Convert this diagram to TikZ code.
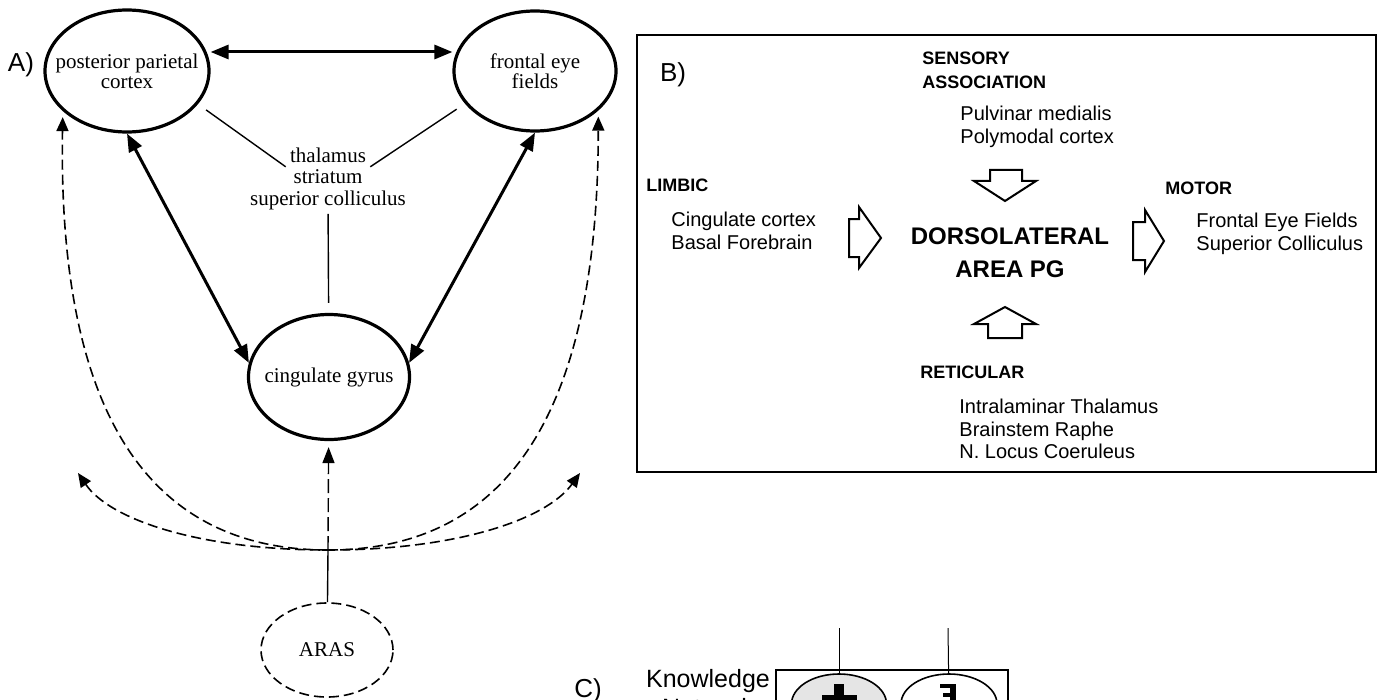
\documentclass[tikz,border=0pt]{standalone}
\usepackage{fontspec}
\setmainfont{Liberation Serif}
\setsansfont{Liberation Sans}
\usetikzlibrary{shapes.geometric,arrows.meta}

\begin{document}
\begin{tikzpicture}[x=0.5pt, y=-0.5pt,
                    area/.style={ellipse, draw, line width=1.6pt, inner sep=0pt},
                    tag/.style={align=center, inner sep=0pt, font=\fontsize{10.5}{10}\selectfont},
                    relay/.style={inner sep=2pt, font=\fontsize{10.5}{11}\selectfont},
                    bold link/.style={line width=1.5pt, {Triangle[length=9pt,width=7pt]}-{Triangle[length=9pt,width=7pt]}},
                    thin link/.style={line width=0.7pt},
                    dash link/.style={line width=0.8pt, dash pattern=on 5pt off 2.5pt},
                    dash tip/.style={-{Triangle[length=7pt,width=6pt]}},
                    panel/.style={font=\sffamily\fontsize{13}{13}\selectfont},
                    btext/.style={anchor=west, inner sep=0pt, align=left, font=\sffamily\fontsize{10}{11.25}\selectfont},
                    bhead/.style={anchor=west, inner sep=0pt, align=left, font=\sffamily\bfseries\fontsize{9}{12}\selectfont},
                    hollow/.style={draw, line width=1pt, line join=miter}
]
\useasboundingbox (0,0) rectangle (1379,700);

% A) attention network
\node[panel] (labA) at (21,65) {A)};
\node[area, minimum width=82pt, minimum height=61pt,
      label={[tag]center:{posterior parietal\\cortex}}] (ppc) at (127,71) {};
\node[area, minimum width=81pt, minimum height=60pt,
      label={[tag]center:{frontal eye\\fields}}] (fef) at (535,71) {};
\node[area, minimum width=80.5pt, minimum height=62.5pt,
      label={[tag]center:cingulate gyrus}] (cing) at (329,377) {};
\node[area, dash link, minimum width=66pt, minimum height=47pt,
      label={[tag]center:ARAS}] (aras) at (327,650) {};

\node[relay] (thal) at (328,155) {thalamus};
\node[relay] (strt) at (328,177) {striatum};
\node[relay] (supc) at (328,200) {superior colliculus};

\coordinate (hub) at (328,550);
\coordinate (tipL) at (78,473);
\coordinate (tipR) at (580,473);

\draw[bold link] ([yshift=9.5pt]ppc.east) -- ([yshift=9.5pt]fef.west);
\draw[bold link] (ppc.south) -- (cing.170);
\draw[bold link] (fef.south) -- (cing.10);

\draw[thin link, shorten <=5pt] (ppc.335) -- (thal.south west);
\draw[thin link, shorten <=5pt] (fef.205) -- (thal.south east);
\draw[thin link, shorten >=5pt] (supc) -- (cing);

\draw[dash link, dash tip, shorten >=3pt] (hub) .. controls (140,550) and (58,400) .. (ppc.212);
\draw[dash link, dash tip, shorten >=3pt] (hub) .. controls (516,550) and (598,400) .. (fef.328);
\draw[dash link, {Triangle[length=7pt,width=6pt]}-{Triangle[length=7pt,width=6pt]}] (tipL) .. controls (110,520) and (200,550) .. (hub) .. controls (456,550) and (546,520) .. (tipR);

\draw[thin link] (aras) -- (hub);
\draw[thin link, dash pattern=on 7pt off 2.5pt, -{Triangle[length=8pt,width=6pt]}, shorten >=3pt] (hub) -- (cing);

% B) area PG
\draw[line width=0.8pt] (637,35) rectangle (1376,472);
\node[panel] (labB) at (673,75) {B)};

\node[bhead] (sens) at (922,70) {SENSORY\\ASSOCIATION};
\node[btext] (sensin) at (960,127) {Pulvinar medialis\\Polymodal cortex};
\node[bhead] (limb) at (646,185) {LIMBIC};
\node[btext] (limbin) at (671,231) {Cingulate cortex\\Basal Forebrain};
\node[align=center, inner sep=0pt, font=\sffamily\bfseries\fontsize{12}{16.5}\selectfont] (pg) at (1010,253) {DORSOLATERAL\\AREA PG};
\node[bhead] (motor) at (1165,188) {MOTOR};
\node[btext] (motorout) at (1196,234) {Frontal Eye Fields\\Superior Colliculus};
\node[bhead] (retic) at (920,372) {RETICULAR};
\node[btext] (reticin) at (959,429) {Intralaminar Thalamus\\Brainstem Raphe\\N. Locus Coeruleus};

\draw[hollow] (990,170) -- (1022,170) -- (1022,181) -- (1036,181) -- (1005,201) -- (974,181) -- (990,181) -- cycle;
\draw[hollow] (1005,307) -- (1036,324) -- (1022,324) -- (1022,338) -- (988,338) -- (988,324) -- (974,324) -- cycle;
\draw[hollow] (849,219) -- (859,219) -- (859,207) -- (881,238) -- (859,268) -- (859,257) -- (849,257) -- cycle;
\draw[hollow] (1133,222) -- (1145,222) -- (1145,210) -- (1164,241) -- (1145,272) -- (1145,260) -- (1133,260) -- cycle;

% C) knowledge network
\node[panel] (labC) at (588,691) {C)};
\node[anchor=north, inner sep=0pt, align=center, font=\sffamily\fontsize{12.5}{14.5}\selectfont] (know) at (708,669) {Knowledge\\Network};
\draw[line width=0.8pt] (776,670) rectangle (1008,760);
\node[ellipse, draw, line width=0.8pt, fill=gray!20, minimum width=47.5pt, minimum height=30pt] (kpos) at (839,704) {};
\node[ellipse, draw, line width=0.8pt, minimum width=48pt, minimum height=30pt] (kneg) at (949,704) {};
\coordinate (inpos) at (839,628);
\coordinate (inneg) at (948,628);
\draw[line width=0.5pt] (inpos) -- (kpos);
\draw[line width=0.5pt] (inneg) -- (kneg);
\fill (834,684) rectangle (844,720);
\fill (822,695) rectangle (857,706);
\fill (940,684) rectangle (956,688);
\fill (950,684) rectangle (956,720);
\fill (943,693) rectangle (956,697);
\end{tikzpicture}
\end{document}
